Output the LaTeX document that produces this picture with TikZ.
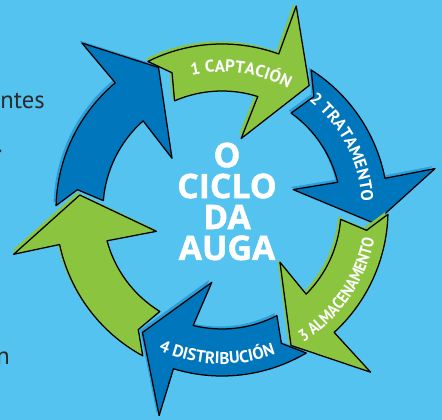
\documentclass[tikz,border=0pt]{standalone}
\usepackage{fontspec}
\setmainfont{PT Sans}
\newfontfamily\titlefont[BoldFeatures={FakeBold=1.4}]{Open Sans}
\newfontfamily\narrowfont[FakeStretch=0.86]{PT Sans}
\usetikzlibrary{decorations.text}
\definecolor{skybg}{HTML}{55C3EF}
\definecolor{deepblue}{HTML}{0076BD}
\definecolor{fringeblue}{HTML}{2A9FDA}
\definecolor{leafgreen}{HTML}{8BC53F}
\definecolor{pagetext}{HTML}{2B2B2B}

\begin{document}
\begin{tikzpicture}[
  x=0.025cm, y=0.025cm,
  bluearrow/.style={draw=black, fill=deepblue, line width=0.9pt, line join=round,
                    preaction={fill=fringeblue, transform canvas={shift={(-2.5,2.5)}}}},
  greenarrow/.style={draw=black, fill=leafgreen, line width=0.9pt, line join=round,
                     preaction={fill=leafgreen, transform canvas={shift={(-2.5,2.5)}}}},
  arclbl/.style={decorate, decoration={text along path, text align=center, text color=white,
                 text={|\bfseries\fontsize{12}{14}\selectfont|#1}}},
  narrowlbl/.style={decorate, decoration={text along path, text align=center, text color=white,
                    text={|\narrowfont\bfseries\fontsize{12}{14}\selectfont|#1}}},
  title/.style={text=white, font=\titlefont\bfseries\fontsize{24}{22}\selectfont, align=center, inner sep=0pt},
  pagefrag/.style={text=pagetext, font=\fontsize{17.5}{20}\selectfont, inner sep=0pt, anchor=base east}
]
\useasboundingbox (-222,-210) rectangle (220,210);
\fill[skybg] (-222,-210) rectangle (220,210);

%--- Page text cut by the frame ---
\node[pagefrag] (ntes) at (-177,101) {ntes};
\node[pagefrag] (dot)  at (-219,57)  {.};
\node[pagefrag] (nend) at (-212,-155) {n};

%--- Blue arrows ---
\path[bluearrow] (57.5:166) arc[start angle=57.5, end angle=11, radius=166] -- (11:217) -- (-5:153)
  -- (16:74) -- (13.5:119) arc[start angle=13.5, end angle=54.5, radius=119] -- (51:146) -- cycle;
\path[bluearrow] (-59.5:166) arc[start angle=-59.5, end angle=-107, radius=166] -- (-107:215) -- (-123:146)
  -- (-98:73) -- (-104:119) arc[start angle=-104, end angle=-62.5, radius=119] -- (-66:146) -- cycle;
\path[bluearrow] (178.5:166) arc[start angle=178.5, end angle=130, radius=166] -- (130:218) -- (114:156)
  -- (134:72) -- (131.5:119) arc[start angle=131.5, end angle=175.5, radius=119] -- (172:146) -- cycle;

%--- Green arrows ---
\path[greenarrow] (116.5:166) arc[start angle=116.5, end angle=70, radius=166] -- (70:217) -- (55:152)
  -- (75:74) -- (72.5:119) arc[start angle=72.5, end angle=113.5, radius=119] -- (110:146) -- cycle;
\path[greenarrow] (-1.5:166) arc[start angle=-1.5, end angle=-47.5, radius=166] -- (-47.5:220) -- (-63:152)
  -- (-42:78) -- (-45:119) arc[start angle=-45, end angle=-4.5, radius=119] -- (-8:146) -- cycle;
\path[greenarrow] (-118.5:166) arc[start angle=-118.5, end angle=-168, radius=166] -- (-168:213) -- (-186:143)
  -- (-162:69) -- (-165:119) arc[start angle=-165, end angle=-121.5, radius=119] -- (-125:146) -- cycle;

%--- Stage labels ---
\path[arclbl={1 CAPTACIÓN}] (110:138) arc[start angle=110, end angle=54, radius=138];
\path[arclbl={2 TRATAMENTO}] (54:140) arc[start angle=54, end angle=1, radius=140];
\path[narrowlbl={3 ALMACENAMENTO}] (-62:155) arc[start angle=-62, end angle=-7, radius=155];
\path[arclbl={4 DISTRIBUCIÓN}] (-120:154) arc[start angle=-120, end angle=-64, radius=154];

%--- Title ---
\node[title] (cycle) at (5,8.5) {O\\CICLO\\DA\\AUGA};

\end{tikzpicture}
\end{document}
